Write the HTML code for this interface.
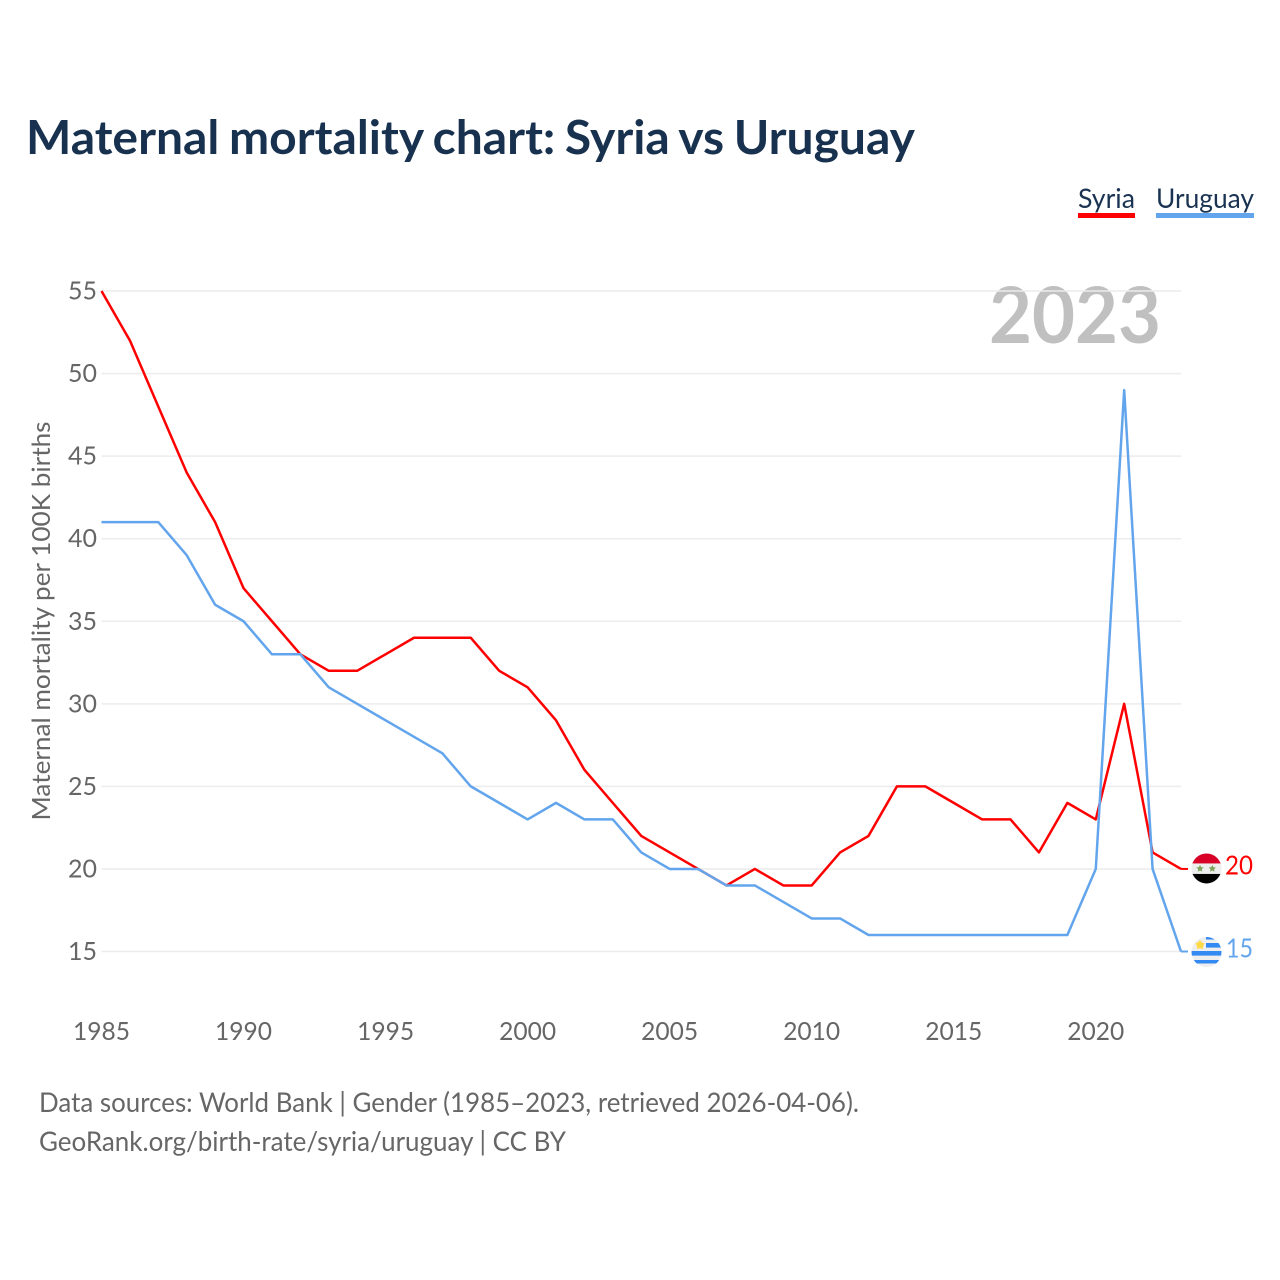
<!DOCTYPE html>
<html lang="en">
<head>
<meta charset="utf-8">
<title>Maternal mortality chart: Syria vs Uruguay</title>
<style>
html,body{margin:0;padding:0;background:#fff;width:1280px;height:1280px;overflow:hidden}
svg{display:block}
text{font-family:"Lato","Carlito","Liberation Sans",sans-serif}
</style>
</head>
<body>
<svg id="chart" xmlns="http://www.w3.org/2000/svg" width="1280" height="1280" viewBox="0 0 1280 1280">
  <rect width="1280" height="1280" fill="#fff"/>
  <text x="26" y="154" font-size="47" font-weight="700" fill="#17314f" textLength="889" lengthAdjust="spacingAndGlyphs" word-spacing="-2">Maternal mortality chart: Syria vs Uruguay</text>
  <g>
    <g>
      <text x="1078" y="208" font-size="27" fill="#1a3352" textLength="57" lengthAdjust="spacingAndGlyphs">Syria</text>
      <rect x="1078" y="213" width="57" height="5" fill="#ff0000"/>
    </g>
    <g>
      <text x="1156" y="208" font-size="27" fill="#1a3352" textLength="98" lengthAdjust="spacingAndGlyphs">Uruguay</text>
      <rect x="1156" y="213" width="98" height="5" fill="#62a5ec"/>
    </g>
  </g>
  <text x="989" y="343" font-size="78" font-weight="700" fill="#c0c0c0" textLength="172" lengthAdjust="spacingAndGlyphs">2023</text>
  <g id="grid"></g>
  <g id="yticks"></g>
  <g id="xticks"></g>
  <text transform="translate(50,621) rotate(-90)" font-size="25" fill="#666" text-anchor="middle" textLength="399" lengthAdjust="spacingAndGlyphs">Maternal mortality per 100K births</text>
  <g id="series"></g>
  <g id="ends"></g>
  <text x="39" y="1112" font-size="27" fill="#666" textLength="820" lengthAdjust="spacingAndGlyphs">Data sources: World Bank | Gender (1985–2023, retrieved 2026-04-06).</text>
  <text x="39" y="1151" font-size="27" fill="#666" textLength="527" lengthAdjust="spacingAndGlyphs">GeoRank.org/birth-rate/syria/uruguay | CC BY</text>
</svg>
<script>
const years = [1985,1986,1987,1988,1989,1990,1991,1992,1993,1994,1995,1996,1997,1998,1999,2000,2001,2002,2003,2004,2005,2006,2007,2008,2009,2010,2011,2012,2013,2014,2015,2016,2017,2018,2019,2020,2021,2022,2023];
const syriaValues = [55,52,48,44,41,37,35,33,32,32,33,34,34,34,32,31,29,26,24,22,21,20,19,20,19,19,21,22,25,25,24,23,23,21,24,23,30,21,20];
const uruguayValues = [41,41,41,39,36,35,33,33,31,30,29,28,27,25,24,23,24,23,23,21,20,20,19,19,18,17,17,16,16,16,16,16,16,16,16,20,49,20,15];
const yTickLabels = [15,20,25,30,35,40,45,50,55];
const xTickLabels = [1985,1990,1995,2000,2005,2010,2015,2020];

const NS = 'http://www.w3.org/2000/svg';
const xScale = function (yr) { return 101.5 + (yr - 1985) * (1181 - 101.5) / (2023 - 1985); };
const yScale = function (v) { return 951.5 - (v - 15) * (951.5 - 291) / (55 - 15); };

function make(tag, attrs, parent) {
  const el = document.createElementNS(NS, tag);
  Object.keys(attrs).forEach(function (k) { el.setAttribute(k, attrs[k]); });
  parent.appendChild(el);
  return el;
}

const grid = document.getElementById('grid');
const yticks = document.getElementById('yticks');
const xticks = document.getElementById('xticks');
const seriesGroup = document.getElementById('series');
const ends = document.getElementById('ends');

yTickLabels.forEach(function (v) {
  const line = make('line', {x1: 101.5, x2: 1181, y1: yScale(v), y2: yScale(v), stroke: '#ececec', 'stroke-width': 1.5}, grid);
  
  
  const t = make('text', {x: 97, y: yScale(v) + 8.5, 'font-size': 25, fill: '#666', 'text-anchor': 'end'}, yticks);
  
  
  t.textContent = v;
});

xTickLabels.forEach(function (yr) {
  const t = make('text', {x: xScale(yr), y: 1040, 'font-size': 25, fill: '#666', 'text-anchor': 'middle', textLength: 57, lengthAdjust: 'spacingAndGlyphs'}, xticks);
  
  
  t.textContent = yr;
});

function drawLine(values, color, name) {
  const pts = values.map(function (v, i) { return xScale(years[i]).toFixed(2) + ',' + yScale(v).toFixed(2); }).join(' ');
  const p = make('polyline', {points: pts, fill: 'none', stroke: color, 'stroke-width': 2.5, 'stroke-linejoin': 'round'}, seriesGroup);
  
  
  const lastY = yScale(values[values.length - 1]);
  const lead = make('line', {x1: 1181, x2: 1188, y1: lastY, y2: lastY, stroke: color, 'stroke-width': 2}, ends);
  
  
  return lastY;
}

function star(cx, cy, r, fill, parent) {
  const pts = [];
  for (let i = 0; i < 10; i++) {
    const a = -Math.PI / 2 + i * Math.PI / 5;
    const rad = i % 2 ? r * 0.5 : r;
    pts.push((cx + rad * Math.cos(a)).toFixed(2) + ',' + (cy + rad * Math.sin(a)).toFixed(2));
  }
  return make('polygon', {points: pts.join(' '), fill: fill}, parent);
}

const syriaY = drawLine(syriaValues, '#ff0000', 'syria');
const uruguayY = drawLine(uruguayValues, '#62a5ec', 'uruguay');

const defs = make('defs', {}, ends);
const clipS = make('clipPath', {id: 'clip-syria'}, defs);
make('circle', {cx: 1206.5, cy: syriaY - 0.5, r: 15}, clipS);
const clipU = make('clipPath', {id: 'clip-uruguay'}, defs);
make('circle', {cx: 1206.5, cy: uruguayY + 0.5, r: 15}, clipU);

const flagS = make('g', {'clip-path': 'url(#clip-syria)'}, ends);


const sy = syriaY - 0.5;
make('rect', {x: 1191, y: sy - 16, width: 31, height: 32, fill: '#eeeeee'}, flagS);
make('rect', {x: 1191, y: sy - 16, width: 31, height: 11, fill: '#d80027'}, flagS);
make('rect', {x: 1191, y: sy + 5.5, width: 31, height: 11, fill: '#000000'}, flagS);
star(1200, sy + 0.2, 3.8, '#7fa35c', flagS);
star(1212.3, sy + 0.2, 3.8, '#7fa35c', flagS);

const flagU = make('g', {'clip-path': 'url(#clip-uruguay)'}, ends);


const uy = uruguayY + 0.5;
make('rect', {x: 1191, y: uy - 16, width: 31, height: 32, fill: '#eeeeee'}, flagU);
make('rect', {x: 1206, y: uy - 16, width: 16, height: 3.5, fill: '#338af3'}, flagU);
make('rect', {x: 1206, y: uy - 9, width: 16, height: 4.6, fill: '#338af3'}, flagU);
make('rect', {x: 1191, y: uy - 1, width: 31, height: 4.6, fill: '#338af3'}, flagU);
make('rect', {x: 1191, y: uy + 8, width: 31, height: 3.5, fill: '#338af3'}, flagU);
make('circle', {cx: 1200, cy: uy - 7, r: 3.5, fill: '#ffda44'}, flagU);
star(1200, uy - 7, 5.2, '#ffda44', flagU);

const labelS = make('text', {x: 1225, y: syriaY + 5.5, 'font-size': 26, fill: '#ff0000', textLength: 28, lengthAdjust: 'spacingAndGlyphs'}, ends);


labelS.textContent = syriaValues[syriaValues.length - 1];
const labelU = make('text', {x: 1226, y: uruguayY + 6, 'font-size': 26, fill: '#62a5ec', textLength: 27, lengthAdjust: 'spacingAndGlyphs'}, ends);


labelU.textContent = uruguayValues[uruguayValues.length - 1];
</script>
</body>
</html>
